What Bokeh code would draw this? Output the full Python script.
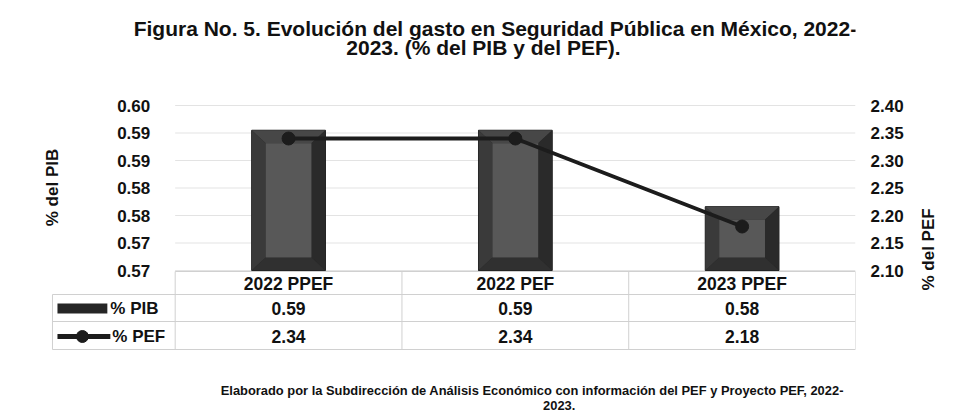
from math import pi
from bokeh.plotting import figure
from bokeh.models import Range1d, LinearAxis, FixedTicker
from bokeh.embed import file_html
from bokeh.resources import INLINE
from bokeh.core.properties import value

# ---------------- data ----------------
CATEGORIES = ["2022 PPEF", "2022 PEF", "2023 PPEF"]
PIB = [0.5905, 0.5905, 0.5766]          # % del PIB (bars, left axis)
PEF = [2.34, 2.34, 2.18]                # % del PEF (line, right axis)
PIB_TICKS = [0.565, 0.570, 0.575, 0.580, 0.585, 0.590, 0.595]
PIB_TICK_LABELS = ["0.57", "0.57", "0.58", "0.58", "0.59", "0.59", "0.60"]
PEF_TICKS = [2.10, 2.15, 2.20, 2.25, 2.30, 2.35, 2.40]
PEF_TICK_LABELS = ["2.10", "2.15", "2.20", "2.25", "2.30", "2.35", "2.40"]
SERIES_NAMES = ["% PIB", "% PEF"]
TITLE_LINES = ["Figura No. 5. Evolución del gasto en Seguridad Pública en México, 2022-",
               "2023. (% del PIB y del PEF)."]
FOOTER_LINES = ["Elaborado por la Subdirección de Análisis Económico con información del PEF y Proyecto PEF, 2022-",
                "2023."]
Y_LEFT_TITLE = "% del PIB"
Y_RIGHT_TITLE = "% del PEF"

# ---------------- layout (picture pixels) ----------------
FONT = "Liberation Sans"
W, H = 950, 412
FR_L, FR_R = 44, 857          # frame, x
FR_T, FR_B = 0, 412           # frame, y
PLOT_L, PLOT_T, PLOT_B = 175, 105, 270   # plot area
n = len(CATEGORIES)
idx = list(range(n))
CAT_PX = (FR_R - PLOT_L) / n
Y0, Y1 = PIB_TICKS[0], PIB_TICKS[-1]
P0, P1 = PEF_TICKS[0], PEF_TICKS[-1]
PPU = (PLOT_B - PLOT_T) / (Y1 - Y0)
PPU_PEF = (PLOT_B - PLOT_T) / (P1 - P0)
BAR_W = 0.325
DARK = "#1c1c1c"
TXT_C = "#111111"


def px2x(px):
    return -0.5 + (px - PLOT_L) / CAT_PX


def py2pef(py):
    return P0 + (PLOT_B - py) / PPU_PEF


p = figure(width=W, height=H,
           x_range=Range1d(px2x(FR_L), n - 0.5),
           y_range=Range1d(Y0 - (FR_B - PLOT_B) / PPU, Y1 + (PLOT_T - FR_T) / PPU),
           output_backend="svg", toolbar_location=None, x_axis_location=None,
           min_border_left=FR_L, min_border_right=W - FR_R,
           min_border_top=FR_T, min_border_bottom=H - FR_B)
p.outline_line_color = None
p.background_fill_color = "white"
p.border_fill_color = "white"
p.grid.visible = False
p.extra_x_ranges = {"px": Range1d(FR_L, FR_R)}
p.extra_y_ranges = {"px": Range1d(FR_B, FR_T),
                    "pef": Range1d(py2pef(FR_B), py2pef(FR_T))}


def style_axis(a, standoff):
    a.axis_line_color = None
    a.major_tick_line_color = None
    a.minor_tick_line_color = None
    a.major_tick_out = 0
    a.major_tick_in = 0
    a.major_label_standoff = standoff
    a.major_label_text_font = FONT
    a.major_label_text_font_style = "bold"
    a.major_label_text_font_size = "17px"
    a.major_label_text_color = TXT_C


# left axis (placed at the plot area, labels only at the PIB ticks)
ax = p.yaxis[0]
ax.ticker = FixedTicker(ticks=PIB_TICKS)
ax.fixed_location = px2x(150)
ax.major_label_overrides = {t: l for t, l in zip(PIB_TICKS, PIB_TICK_LABELS)}
style_axis(ax, 0)

# right axis
rax = LinearAxis(y_range_name="pef", ticker=FixedTicker(ticks=PEF_TICKS),
                 major_label_overrides={t: l for t, l in zip(PEF_TICKS, PEF_TICK_LABELS)})
style_axis(rax, 15)
p.add_layout(rax, "right")

# right axis title, drawn as the single rotated label of an outer axis
TITLE_Y = 290
tax = LinearAxis(y_range_name="px", ticker=FixedTicker(ticks=[TITLE_Y]),
                 major_label_overrides={TITLE_Y: Y_RIGHT_TITLE})
style_axis(tax, 22)
tax.major_label_orientation = pi / 2
p.add_layout(tax, "right")

# gridlines of the plot area
p.segment(x0=[-0.5] * len(PIB_TICKS), x1=[n - 0.5] * len(PIB_TICKS), y0=PIB_TICKS, y1=PIB_TICKS,
          line_color="#e3e3e3", line_width=1)

# bevelled bars
dx = 14.0 / CAT_PX
dy = 13.0 / PPU
faces = {"top": [], "left": [], "right": [], "bottom": []}
for i, v in zip(idx, PIB):
    xl, xr = i - BAR_W / 2, i + BAR_W / 2
    faces["top"].append(([xl, xr, xr - dx, xl + dx], [v, v, v - dy, v - dy]))
    faces["bottom"].append(([xl, xr, xr - dx, xl + dx], [Y0, Y0, Y0 + dy, Y0 + dy]))
    faces["left"].append(([xl, xl + dx, xl + dx, xl], [Y0, Y0 + dy, v - dy, v]))
    faces["right"].append(([xr, xr - dx, xr - dx, xr], [Y0, Y0 + dy, v - dy, v]))
p.vbar(x=idx, top=PIB, bottom=Y0, width=BAR_W, fill_color="#262626", line_color="#161616", line_width=1)
face_col = {"top": "#474747", "left": "#3a3a3a", "right": "#2a2a2a", "bottom": "#303030"}
for k, lst in faces.items():
    p.patches(xs=[a for a, b in lst], ys=[b for a, b in lst], fill_color=face_col[k], line_color=None)
p.quad(left=[i - BAR_W / 2 + dx for i in idx], right=[i + BAR_W / 2 - dx for i in idx],
       bottom=[Y0 + dy] * n, top=[v - dy for v in PIB], fill_color="#585858", line_color=None)

# line series
p.line(x=idx, y=PEF, y_range_name="pef", line_color=DARK, line_width=4)
p.scatter(x=idx, y=PEF, y_range_name="pef", size=13, marker="circle", fill_color=DARK, line_color=DARK)

TXT = dict(text_font=value(FONT), text_font_style="bold", text_font_size="17.5px",
           text_color=TXT_C, text_align="center", text_baseline="middle")

# title
TT = dict(TXT)
TT["text_font_size"] = "21px"
p.text(x=[496, 484], y=[28, 47], text=TITLE_LINES, x_range_name="px", y_range_name="px", **TT)

# left axis title
LT = dict(TXT)
LT["text_font_size"] = "17px"
p.text(x=[52], y=[187], text=[Y_LEFT_TITLE], angle=pi / 2, x_range_name="px", y_range_name="px", **LT)

# ---------------- data table ----------------
LINE_C = "#d0d0d0"
ROWS = [271, 294, 321, 349]
p.segment(x0=[PLOT_L, 52, 52, 52], x1=[FR_R] * 4, y0=ROWS, y1=ROWS,
          x_range_name="px", y_range_name="px", line_color=LINE_C, line_width=1)
p.segment(x0=[i - 0.5 for i in range(n + 1)], x1=[i - 0.5 for i in range(n + 1)],
          y0=[ROWS[0]] * (n + 1), y1=[ROWS[3]] * (n + 1), y_range_name="px",
          line_color=LINE_C, line_width=1)
p.segment(x0=[52], x1=[52], y0=[ROWS[1]], y1=[ROWS[3]], x_range_name="px", y_range_name="px",
          line_color=LINE_C, line_width=1)

p.text(x=idx, y=[283] * n, text=CATEGORIES, y_range_name="px", **TXT)
p.text(x=idx, y=[308] * n, text=[f"{v:.2f}" for v in PIB], y_range_name="px", **TXT)
p.text(x=idx, y=[336] * n, text=[f"{v:.2f}" for v in PEF], y_range_name="px", **TXT)

# legend keys of the table
p.quad(left=[57], right=[107], bottom=[313], top=[303], x_range_name="px", y_range_name="px",
       fill_color="#262626", line_color=None)
p.line(x=[57, 110], y=[336, 336], x_range_name="px", y_range_name="px", line_color=DARK, line_width=5)
p.scatter(x=[82], y=[336], x_range_name="px", y_range_name="px", size=12, marker="circle",
          fill_color=DARK, line_color=DARK)
LTXT = dict(TXT)
LTXT["text_align"] = "left"
LTXT["text_font_size"] = "17px"
p.text(x=[110, 112], y=[308, 336], text=SERIES_NAMES, x_range_name="px", y_range_name="px", **LTXT)

# footer
FTXT = dict(TXT)
FTXT["text_font_size"] = "12.9px"
p.text(x=[533, 560], y=[390, 405], text=FOOTER_LINES, x_range_name="px", y_range_name="px", **FTXT)

open("out.html", "w").write(file_html(p, INLINE))
